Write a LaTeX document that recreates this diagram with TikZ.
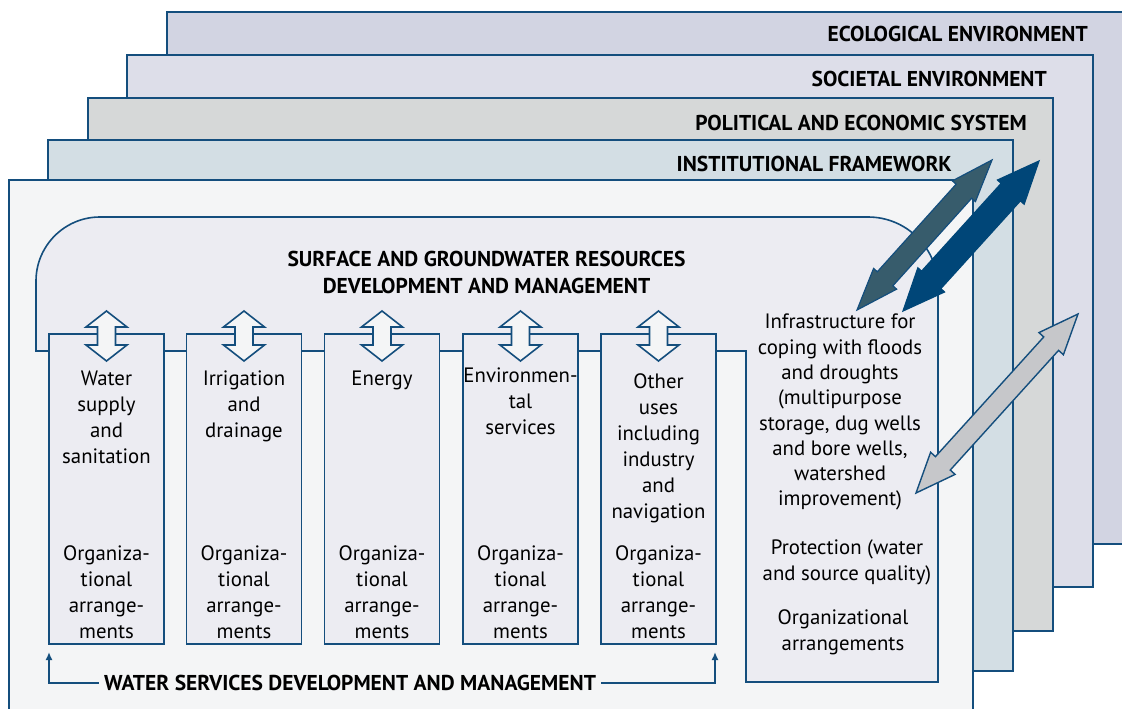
\documentclass[tikz,border=0pt]{standalone}
\usepackage{fontspec}
\setmainfont{PT Sans}
\usetikzlibrary{calc,positioning,arrows.meta}

\definecolor{navy}{RGB}{20,78,125}
\definecolor{ecofill}{RGB}{210,212,226}
\definecolor{socfill}{RGB}{221,222,233}
\definecolor{polfill}{RGB}{214,216,216}
\definecolor{instfill}{RGB}{211,222,228}
\definecolor{mainfill}{RGB}{244,245,246}
\definecolor{blobfill}{RGB}{236,236,242}
\definecolor{slate}{RGB}{55,92,108}
\definecolor{deepblue}{RGB}{0,70,120}
\definecolor{lightgrey}{RGB}{198,199,202}

\tikzset{
  layer/.style={draw=navy, line width=1.6pt},
  blob/.style={draw=navy, line width=1.6pt, fill=blobfill},
  colbox/.style={draw=navy, line width=1.6pt, fill=blobfill, minimum width=115pt, minimum height=310pt, inner sep=0pt},
  coltext/.style={align=center, inner sep=0pt, anchor=north, font=\fontsize{20.8}{26}\selectfont},
  layertitle/.style={inner sep=0pt, anchor=east, font=\fontsize{21.5}{27}\selectfont\bfseries},
  maintitle/.style={inner sep=0pt, align=center, font=\fontsize{21.5}{27}\selectfont\bfseries},
  colarrow/.style={draw=navy, line width=1.6pt, fill=mainfill, line join=miter},
  slatearrow/.style={draw=navy, line width=1.2pt, fill=slate},
  deeparrow/.style={draw=deepblue, line width=1.2pt, fill=deepblue},
  greyarrow/.style={draw=navy, line width=1.4pt, fill=lightgrey},
  bracket/.style={draw=navy, line width=2pt, -{Latex[length=8pt,width=7pt]}},
}

% fat double arrow: style, tip, tip, head length, head half width, shaft half width
\newcommand{\fatarrow}[6]{%
  \coordinate (fa1) at ($(#2)!#4!(#3)$);
  \coordinate (fa2) at ($(#3)!#4!(#2)$);
  \draw[#1] (#2) -- ($(fa1)!#5!90:(#3)$) -- ($(fa1)!#6!90:(#3)$)
    -- ($(fa2)!#6!-90:(#2)$) -- ($(fa2)!#5!-90:(#2)$) -- (#3)
    -- ($(fa2)!#5!90:(#2)$) -- ($(fa2)!#6!90:(#2)$)
    -- ($(fa1)!#6!-90:(#3)$) -- ($(fa1)!#5!-90:(#3)$) -- cycle;}

\begin{document}
\begin{tikzpicture}[x=1pt,y=-1pt]
        \useasboundingbox (0,0) rectangle (1122,709);

        % nested layers
        \draw[layer,fill=ecofill]  (167,12) rectangle (1135,544);
        \draw[layer,fill=socfill]  (127,55) rectangle (1093,587);
        \draw[layer,fill=polfill]  (88,98)  rectangle (1053,631);
        \draw[layer,fill=instfill] (48,140) rectangle (1013,671);
        \draw[layer,fill=mainfill] (9,180)  rectangle (973,725);

        \node[layertitle] (eco)  at (1088,34)  {ECOLOGICAL ENVIRONMENT};
        \node[layertitle] (soc)  at (1047,79)  {SOCIETAL ENVIRONMENT};
        \node[layertitle] (pol)  at (1027,123) {POLITICAL AND ECONOMIC SYSTEM};
        \node[layertitle] (inst) at (952,164)  {INSTITUTIONAL FRAMEWORK};

        % resources block
        \draw[blob] (36,351) -- (36,281) .. controls (36,245.7) and (64.7,217) .. (100,217)
          -- (868,217) .. controls (906.7,217) and (938,248.3) .. (938,287)
          -- (938,682) -- (746,682) -- (746,351) -- cycle;
        \node[maintitle] (res) at (486.5,272.5) {SURFACE AND GROUNDWATER RESOURCES\\DEVELOPMENT AND MANAGEMENT};

        % water service columns
        \node[colbox] (c1) at (106.5,489) {};
        \node[colbox] (c2) at (244,489)   {};
        \node[colbox] (c3) at (382,489)   {};
        \node[colbox] (c4) at (520.5,489) {};
        \node[colbox] (c5) at (658.5,489) {};

        \coordinate (a1t) at (106.5,311); \coordinate (a1b) at (106.5,361);
        \coordinate (a2t) at (244,311);   \coordinate (a2b) at (244,361);
        \coordinate (a3t) at (382,311);   \coordinate (a3b) at (382,361);
        \coordinate (a4t) at (520.5,311); \coordinate (a4b) at (520.5,361);
        \coordinate (a5t) at (658.5,311); \coordinate (a5b) at (658.5,361);
        \fatarrow{colarrow}{a1t}{a1b}{16pt}{20.5pt}{9pt}
        \fatarrow{colarrow}{a2t}{a2b}{16pt}{20.5pt}{9pt}
        \fatarrow{colarrow}{a3t}{a3b}{16pt}{20.5pt}{9pt}
        \fatarrow{colarrow}{a4t}{a4b}{16pt}{20.5pt}{9pt}
        \fatarrow{colarrow}{a5t}{a5b}{16pt}{20.5pt}{9pt}

        \node[coltext] (u1) at (106.5,371) {Water\\supply\\and\\sanitation};
        \node[coltext] (u2) at (244,371)   {Irrigation\\and\\drainage};
        \node[coltext] (u3) at (382,371)   {Energy};
        \node[coltext] (u4) at (520.5,368) {Environmen-\\tal\\services};
        \node[coltext] (u5) at (658.5,373) {Other\\uses\\including\\industry\\and\\navigation};

        \node[coltext] (o1) at (106.5,545) {Organiza-\\tional\\arrange-\\ments};
        \node[coltext] (o2) at (244,545)   {Organiza-\\tional\\arrange-\\ments};
        \node[coltext] (o3) at (382,545)   {Organiza-\\tional\\arrange-\\ments};
        \node[coltext] (o4) at (520.5,545) {Organiza-\\tional\\arrange-\\ments};
        \node[coltext] (o5) at (658.5,545) {Organiza-\\tional\\arrange-\\ments};

        % infrastructure part
        \node[coltext,font=\fontsize{20.8}{25.3}\selectfont] (infra) at (840,314)
          {Infrastructure for\\coping with floods\\and droughts\\(multipurpose\\storage, dug wells\\and bore wells,\\watershed\\improvement)};
        \node[coltext] (prot) at (847,539) {Protection (water\\and source quality)};
        \node[coltext] (org) at (843,609) {Organizational\\arrangements};

        % links to outer layers
        \coordinate (f1a) at (857,310); \coordinate (f1b) at (992,160);
        \coordinate (f2a) at (903,311); \coordinate (f2b) at (1039,161);
        \coordinate (f3a) at (916,493); \coordinate (f3b) at (1078,314);
        \fatarrow{slatearrow}{f1a}{f1b}{42pt}{15.5pt}{10.5pt}
        \fatarrow{deeparrow}{f2a}{f2b}{42pt}{18pt}{13pt}
        \fatarrow{greyarrow}{f3a}{f3b}{40pt}{16.5pt}{10pt}

        % water services bracket
        \node[maintitle,inner sep=5pt] (ws) at (350,683) {WATER SERVICES DEVELOPMENT AND MANAGEMENT};
        \coordinate (wl) at (49,652);
        \coordinate (wr) at (715,652);
        \draw[bracket] (ws.west) -| (wl);
        \draw[bracket] (ws.east) -| (wr);
      \end{tikzpicture}
\end{document}
